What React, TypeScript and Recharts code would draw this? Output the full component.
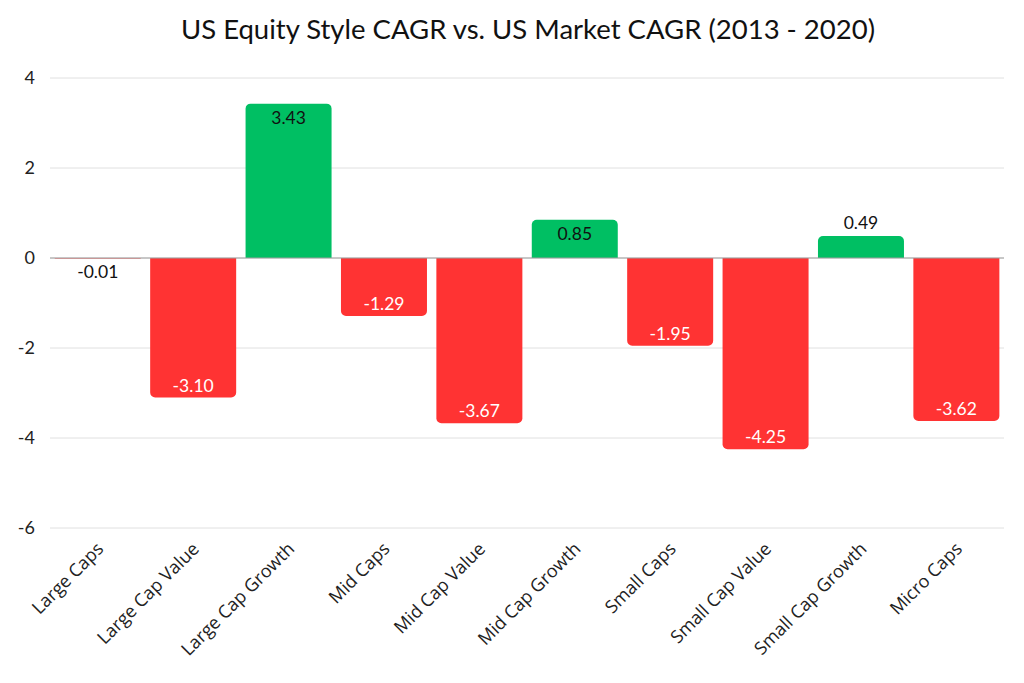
import React from "react";
import {
  BarChart,
  Bar,
  XAxis,
  YAxis,
  CartesianGrid,
  ReferenceLine,
  LabelList,
  Cell,
} from "recharts";

const categories = [
  "Large Caps",
  "Large Cap Value",
  "Large Cap Growth",
  "Mid Caps",
  "Mid Cap Value",
  "Mid Cap Growth",
  "Small Caps",
  "Small Cap Value",
  "Small Cap Growth",
  "Micro Caps",
];
const cagrDiff = [-0.01, -3.1, 3.43, -1.29, -3.67, 0.85, -1.95, -4.25, 0.49, -3.62];
const yTicks = [-6, -4, -2, 0, 2, 4];

const GREEN = "#00BF63";
const RED = "#FF3333";
const NUM_FONT = "Lato, sans-serif";

const data = categories.map((name, i) => ({ name, value: cagrDiff[i] }));

function CategoryTick({ x, y, payload }: any) {
  const tx = x + 7;
  const ty = y + 2;
  return (
    <text
      x={tx}
      y={ty}
      transform={`rotate(-45, ${tx}, ${ty})`}
      textAnchor="end"
      fontFamily="'Open Sans', sans-serif"
      fontSize={18}
      fill="#222"
    >
      {payload.value}
    </text>
  );
}

function ValueLabel({ x, y, width, height, value }: any) {
  const cx = x + width / 2;
  const barPx = Math.abs(height);
  const inside = barPx > 30;
  let ty: number;
  let fill = "#111";
  if (value >= 0) {
    const top = Math.min(y, y + height);
    ty = inside ? top + 20 : top - 7;
  } else {
    const bottom = Math.max(y, y + height);
    ty = inside ? bottom - 6 : bottom + 20;
    if (inside) fill = "#fff";
  }
  return (
    <text x={cx} y={ty} textAnchor="middle" fontFamily={NUM_FONT} fontSize={17.5} fill={fill}>
      {Number(value).toFixed(2)}
    </text>
  );
}

export default function App() {
  return (
    <div style={{ position: "absolute", left: 0, top: 0, width: 1024, height: 683, background: "#fff" }}>
      <div
        style={{
          position: "absolute",
          top: 12,
          left: 16,
          width: 1024,
          textAlign: "center",
          fontFamily: NUM_FONT,
          fontSize: 27.5,
          color: "#111",
        }}
      >
        US Equity Style CAGR vs. US Market CAGR (2013 - 2020)
      </div>
      <BarChart
        width={1024}
        height={683}
        data={data}
        margin={{ top: 78, right: 20, bottom: 5, left: 10 }}
        barCategoryGap="5%"
      >
        <CartesianGrid vertical={false} stroke="#e0e0e0" />
        <XAxis
          dataKey="name"
          axisLine={false}
          tickLine={false}
          interval={0}
          height={150}
          tick={<CategoryTick />}
          tickMargin={14}
        />
        <YAxis
          domain={[-6, 4]}
          ticks={yTicks}
          axisLine={false}
          tickLine={false}
          tickSize={0}
          tickMargin={15}
          width={40}
          tick={{ fill: "#222", fontSize: 18, fontFamily: NUM_FONT }}
        />
        <ReferenceLine y={0} stroke="#9e9e9e" />
        <Bar dataKey="value" radius={[5, 5, 0, 0]} isAnimationActive={false}>
          {data.map((d, i) => (
            <Cell key={i} fill={d.value >= 0 ? GREEN : RED} />
          ))}
          <LabelList dataKey="value" content={<ValueLabel />} />
        </Bar>
      </BarChart>
    </div>
  );
}
